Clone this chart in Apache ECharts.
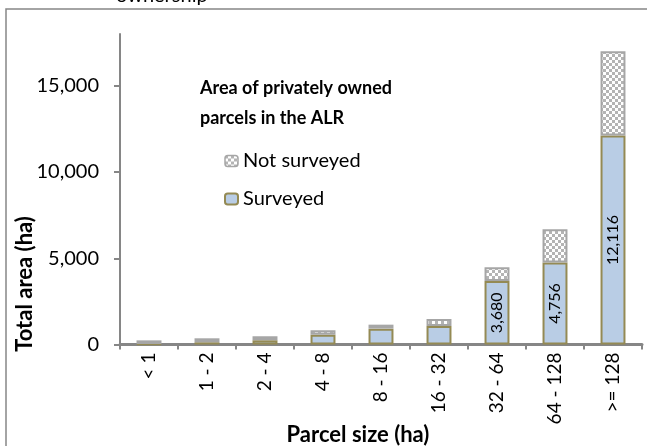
<!DOCTYPE html>
<html>
<head>
<meta charset="utf-8">
<script src="https://cdn.jsdelivr.net/npm/echarts@6/dist/echarts.min.js"></script>
<style>
html,body{margin:0;padding:0;background:#fff;}
#c{width:647px;height:446px;}
</style>
</head>
<body>
<div id="c"></div>
<script>
const categories = ['< 1','1 - 2','2 - 4','4 - 8','8 - 16','16 - 32','32 - 64','64 - 128','>= 128'];
const surveyed = [30, 130, 240, 570, 920, 1070, 3680, 4756, 12116];
const notSurveyed = [210, 230, 235, 250, 230, 410, 800, 1920, 4880];
const yTicks = [0, 5000, 10000, 15000];
const labelThreshold = 3000;
const xTitle = 'Parcel size (ha)';
const yTitle = 'Total area (ha)';

const FONT = 'Lato';

// checker pattern
const pc = document.createElement('canvas');
pc.width = 6; pc.height = 6;
const px = pc.getContext('2d');
px.fillStyle = '#ffffff'; px.fillRect(0,0,6,6);
px.fillStyle = '#b4b4b4';
px.fillRect(0,0,3,3); px.fillRect(3,3,3,3);
const checker = {image: pc, repeat: 'repeat'};

const fmt = v => Number(v).toLocaleString('en-US');

const chart = echarts.init(document.getElementById('c'), null, {renderer:'canvas'});
chart.setOption({
  animation: false,
  backgroundColor: '#fff',
  textStyle: {fontFamily: FONT},
  title: {
    text: 'Area of privately owned\nparcels in the ALR',
    left: 195, top: 68,
    textStyle: {fontFamily: FONT, fontWeight: 'bold', fontSize: 18, lineHeight: 30, color: '#000'}
  },
  legend: {
    orient: 'vertical',
    left: 219, top: 146,
    itemWidth: 13, itemHeight: 11,
    itemGap: 18,
    textStyle: {fontFamily: FONT, fontSize: 20, color: '#000'},
    data: [
      {name: 'Not surveyed', itemStyle: {color: checker, borderColor: '#a6a6a6', borderWidth: 1.5}},
      {name: 'Surveyed', itemStyle: {color: '#b9cde5', borderColor: '#948a54', borderWidth: 2}}
    ]
  },
  grid: {left: 120, right: 5, top: 34, bottom: 101.5, containLabel: false, outerBoundsMode: 'none'},
  xAxis: {
    type: 'category',
    data: categories,
    axisLine: {lineStyle: {color: '#868686', width: 3}},
    axisTick: {show: true, length: 5, lineStyle: {color: '#868686', width: 2}},
    axisLabel: {rotate: 90, margin: 8, fontSize: 19, color: '#000', fontFamily: FONT, interval: 0}
  },
  yAxis: {
    type: 'value',
    min: 0, max: 18000, interval: 5000,
    splitLine: {show: false},
    axisLine: {show: true, lineStyle: {color: '#868686', width: 2}},
    axisTick: {show: true, length: 6, lineStyle: {color: '#868686', width: 2}, customValues: yTicks},
    axisLabel: {margin: 21, fontSize: 20, color: '#000', fontFamily: FONT, customValues: yTicks,
      formatter: v => fmt(v)}
  },
  series: [
    {
      name: 'Surveyed', type: 'bar', stack: 'a',
      data: surveyed,
      barCategoryGap: '57%',
      itemStyle: {color: '#b9cde5', borderColor: '#948a54', borderWidth: 2},
      label: {
        show: true, position: 'inside', rotate: 90, fontSize: 16, color: '#000', fontFamily: FONT,
        formatter: p => p.value >= labelThreshold ? fmt(p.value) : ''
      }
    },
    {
      name: 'Not surveyed', type: 'bar', stack: 'a',
      data: notSurveyed,
      itemStyle: {color: checker, borderColor: '#a6a6a6', borderWidth: 2}
    }
  ],
  graphic: [
    {type: 'rect', silent: true, shape: {x: 6, y: 9, width: 700, height: 500},
      style: {fill: 'none', stroke: '#868686', lineWidth: 1.5}},
    {type: 'text', left: 116, top: -14,
      style: {text: 'ownership', font: '20px Lato', fill: '#000'}},
    {type: 'text', x: 358, y: 435,
      style: {text: xTitle, font: 'bold 22px Lato', fill: '#000', align: 'center', verticalAlign: 'middle'}},
    {type: 'text', x: 25, y: 284, rotation: Math.PI / 2,
      style: {text: yTitle, font: 'bold 22px Lato', fill: '#000', align: 'center', verticalAlign: 'middle'}}
  ]
});
</script>
</body>
</html>
